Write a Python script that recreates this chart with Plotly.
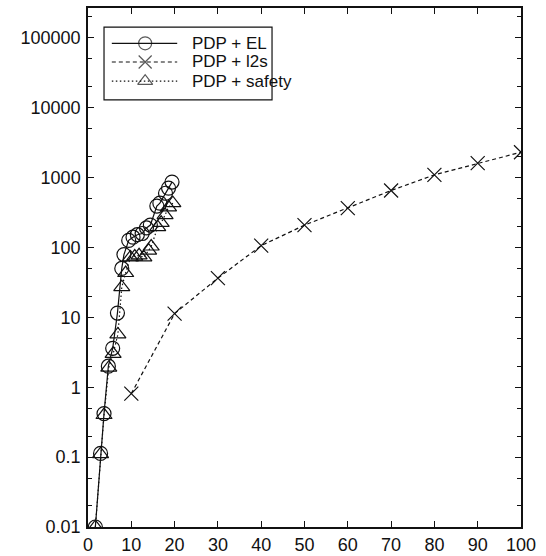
import plotly.graph_objects as go

# PDP + EL (solid line, open circles)
el_x = [1.7, 2.9, 3.7, 4.7, 5.7, 6.8, 7.8, 8.3, 9.4, 10.4, 11.4, 12.5, 13.5, 14.4, 15.9, 16.6, 17.9, 18.6, 19.4]
el_y = [0.01, 0.113, 0.42, 2.0, 3.6, 11.5, 50, 79, 126, 140, 152, 158, 190, 209, 390, 430, 595, 705, 860]

# PDP + l2s (dashed line, crosses)
l2s_x = [10, 20, 30, 40, 50, 60, 70, 80, 90, 100]
l2s_y = [0.81, 11.3, 36.4, 106, 208, 365, 652, 1092, 1602, 2300]

# PDP + safety (dotted line, open triangles)
saf_x = [1.7, 2.9, 3.7, 4.8, 5.8, 6.9, 7.8, 8.7, 9.8, 10.8, 11.8, 12.9, 14.0, 14.6, 16.1, 16.9, 17.8, 18.6, 19.6]
saf_y = [0.01, 0.11, 0.4, 1.9, 3.0, 5.7, 27, 43, 72, 74, 77, 72, 90, 103, 195, 225, 290, 375, 430]

series_names = ["PDP + EL", "PDP + l2s", "PDP + safety"]

y_tickvals = [0.01, 0.1, 1, 10, 100, 1000, 10000, 100000]
y_ticktext = ["0.01", "0.1", "1", "10", "100", "1000", "10000", "100000"]
x_tickvals = [0, 10, 20, 30, 40, 50, 60, 70, 80, 90, 100]

FONT = "Liberation Sans, Arial, Helvetica, sans-serif"
INK = "#111111"

styles = [
    dict(dash="solid", symbol="circle-open", size=14),
    dict(dash="4px,3px", symbol="x-thin-open", size=14),
    dict(dash="1.5px,2.5px", symbol="triangle-up-open", size=14),
]
data = [(el_x, el_y), (l2s_x, l2s_y), (saf_x, saf_y)]

fig = go.Figure()
for (xs, ys), st, name in zip(data, styles, series_names):
    fig.add_trace(go.Scatter(
        x=xs, y=ys, mode="lines+markers", name=name, showlegend=False,
        line=dict(color=INK, width=1.2, dash=st["dash"]),
        marker=dict(symbol=st["symbol"], size=st["size"], color=INK,
                    line=dict(color=INK, width=1.2)),
    ))

# Boxed legend drawn on an overlay axis spanning the plot area (0..1 both ways)
row_y = [0.932, 0.896, 0.859]
for st, name, ry in zip(styles, series_names, row_y):
    fig.add_trace(go.Scatter(
        x=[0.055, 0.132, 0.206], y=[ry, ry, ry], xaxis="x2", yaxis="y2",
        mode="lines+markers", showlegend=False, hoverinfo="skip",
        line=dict(color=INK, width=1.2, dash=st["dash"]),
        marker=dict(symbol=st["symbol"], size=[0, 13, 0], color=INK,
                    line=dict(color=INK, width=1.2)),
    ))
    fig.add_annotation(x=0.236, y=ry, xref="x2", yref="y2", text=name,
                       showarrow=False, xanchor="left", yanchor="middle",
                       font=dict(family=FONT, size=17, color=INK))

fig.add_shape(type="rect", xref="x2", yref="y2", x0=0.037, x1=0.425,
              y0=0.823, y1=0.963, line=dict(color=INK, width=1.2),
              fillcolor="white", layer="below")

axis_common = dict(
    showgrid=False, zeroline=False, showline=True, linecolor=INK, linewidth=1.5,
    mirror="ticks", ticks="inside", tickcolor=INK, tickwidth=1.2, ticklen=6,
    tickfont=dict(family=FONT, size=18, color=INK), automargin=False,
)

fig.update_layout(
    width=546, height=556,
    margin=dict(l=88, r=25, t=8, b=29),
    paper_bgcolor="white", plot_bgcolor="white",
    showlegend=False,
    xaxis=dict(range=[0, 100], tickvals=x_tickvals, ticklabelstandoff=1,
               **axis_common),
    yaxis=dict(type="log", range=[-2, 5.425], tickvals=y_tickvals,
               ticktext=y_ticktext, ticklabelstandoff=2,
               minor=dict(tickvals=[2 * 10 ** k for k in range(-2, 6)] +
                                   [5 * 10 ** k for k in range(-2, 6)],
                          ticks="inside", ticklen=4, tickcolor=INK, tickwidth=1),
               **axis_common),
    xaxis2=dict(range=[0, 1], overlaying="x", visible=False, fixedrange=True),
    yaxis2=dict(range=[0, 1], overlaying="y", visible=False, fixedrange=True),
)

fig.write_html("out.html")
